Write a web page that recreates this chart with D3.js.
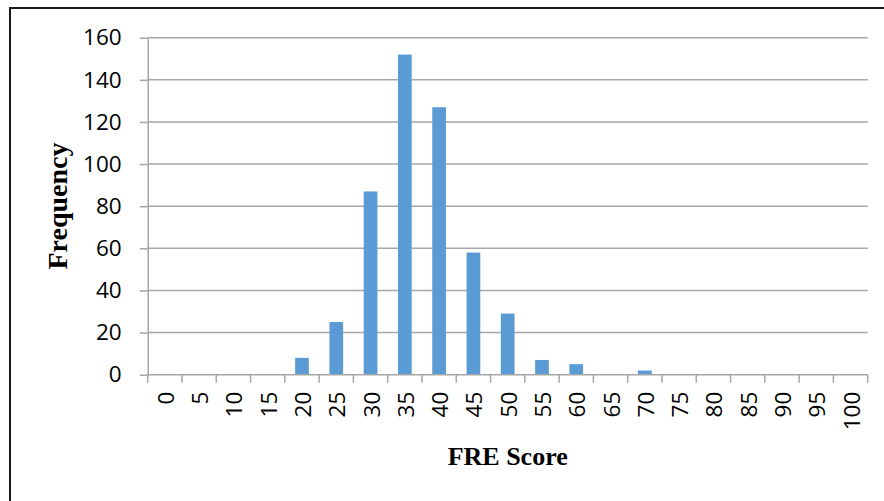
<!DOCTYPE html>
<html>
<head>
<meta charset="utf-8">
<script src="https://cdn.jsdelivr.net/npm/d3@7"></script>
<style>
  html, body { margin: 0; padding: 0; background: #ffffff; }
  svg { display: block; }
</style>
</head>
<body>
<svg id="chart" width="884" height="501"></svg>
<script>
// FRE score bins (category labels along the x axis)
const scoreBins = ["0","5","10","15","20","25","30","35","40","45","50",
                   "55","60","65","70","75","80","85","90","95","100"];
// Number of texts falling in each bin
const frequencies = [0,0,0,0,8,25,87,152,127,58,29,7,5,0,2,0,0,0,0,0,0];
// Frequency axis ticks
const freqTicks = [0,20,40,60,80,100,120,140,160];

const xTitle = "FRE Score";
const yTitle = "Frequency";

const svg = d3.select("#chart");
const plot = { left: 147.7, right: 867.7, top: 37.7, bottom: 374.7 };

// Outer chart frame (runs past the right and bottom edges)
svg.append("rect")
  .attr("x", 10).attr("y", 8)
  .attr("width", 900).attr("height", 520)
  .attr("fill", "none")
  .attr("stroke", "#1a1a1a")
  .attr("stroke-width", 2);

const x = d3.scaleBand()
  .domain(scoreBins)
  .range([plot.left, plot.right])
  .paddingInner(0.6)
  .paddingOuter(0.3);

const y = d3.scaleLinear()
  .domain([0, 160])
  .range([plot.bottom, plot.top]);

const gridColor = "#a6a6a6";
const labelFont = "'Open Sans', 'Liberation Sans', sans-serif";
const labelSize = 22.5;

// Horizontal gridlines
svg.append("g")
  .selectAll("line")
  .data(freqTicks.filter(d => d > 0))
  .join("line")
  .attr("x1", plot.left).attr("x2", plot.right)
  .attr("y1", d => y(d)).attr("y2", d => y(d))
  .attr("stroke", gridColor)
  .attr("stroke-width", 1.5);

// Y axis
const yAxis = svg.append("g")
  .attr("transform", `translate(${plot.left},0)`)
  .call(d3.axisLeft(y).tickValues(freqTicks).tickSize(8).tickSizeOuter(0).tickPadding(18));
yAxis.select(".domain").attr("stroke", gridColor).attr("stroke-width", 1.5);
yAxis.selectAll(".tick line").attr("stroke", gridColor).attr("stroke-width", 1.5);
yAxis.selectAll(".tick text")
  .attr("font-family", labelFont)
  .attr("font-size", labelSize)
  .attr("fill", "#000");

// Bars
svg.append("g")
  .selectAll("rect")
  .data(scoreBins.map((b, i) => ({ bin: b, value: frequencies[i] })).filter(d => d.value > 0))
  .join("rect")
  .attr("x", d => x(d.bin))
  .attr("width", x.bandwidth())
  .attr("y", d => y(d.value))
  .attr("height", d => y(0) - y(d.value))
  .attr("fill", "#5b9bd5");

// X axis baseline and category boundary ticks
const step = x.step();
const x0 = x.range()[0];
svg.append("line")
  .attr("x1", plot.left).attr("x2", plot.right)
  .attr("y1", y(0)).attr("y2", y(0))
  .attr("stroke", gridColor).attr("stroke-width", 1.5);
svg.append("g")
  .selectAll("line")
  .data(d3.range(scoreBins.length + 1))
  .join("line")
  .attr("x1", i => x0 + i * step).attr("x2", i => x0 + i * step)
  .attr("y1", y(0)).attr("y2", y(0) + 8)
  .attr("stroke", gridColor).attr("stroke-width", 1.5);

// Rotated category labels
svg.append("g")
  .selectAll("text")
  .data(scoreBins)
  .join("text")
  .attr("transform", d => `translate(${x(d) + x.bandwidth() / 2 + 0.5},${y(0) + 17}) rotate(-90)`)
  .attr("text-anchor", "end")
  .attr("dominant-baseline", "central")
  .attr("font-family", labelFont)
  .attr("font-size", labelSize)
  .attr("fill", "#000")
  .text(d => d);

// Axis titles
svg.append("text")
  .attr("x", (plot.left + plot.right) / 2)
  .attr("y", 465)
  .attr("text-anchor", "middle")
  .attr("font-family", "'Liberation Serif', 'Times New Roman', serif")
  .attr("font-weight", "bold")
  .attr("font-size", 26)
  .attr("fill", "#000")
  .text(xTitle);

svg.append("text")
  .attr("transform", `translate(67,206) rotate(-90)`)
  .attr("text-anchor", "middle")
  .attr("font-family", "'Liberation Serif', 'Times New Roman', serif")
  .attr("font-weight", "bold")
  .attr("font-size", 28)
  .attr("fill", "#000")
  .text(yTitle);
</script>
</body>
</html>
